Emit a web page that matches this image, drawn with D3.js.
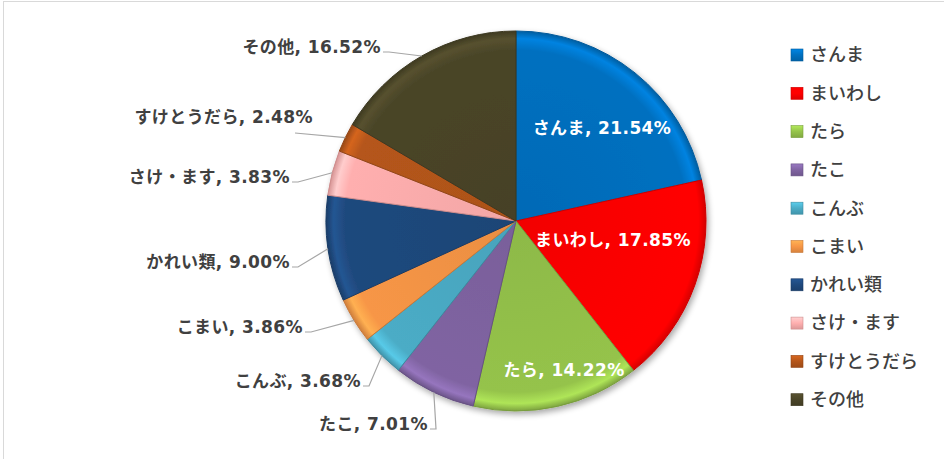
<!DOCTYPE html>
<html>
<head>
<meta charset="utf-8">
<script src="https://cdn.jsdelivr.net/npm/d3@7"></script>
<style>
  body { margin: 0; background: #fff; }
  svg { display: block; }
</style>
</head>
<body>
<div id="chart"></div>
<script>
// categories and their shares (%), clockwise from 12 o'clock
const CATEGORIES = ['さんま', 'まいわし', 'たら', 'たこ', 'こんぶ', 'こまい', 'かれい類', 'さけ・ます', 'すけとうだら', 'その他'];
const SHARES = [21.54, 17.85, 14.22, 7.01, 3.68, 3.86, 9.00, 3.83, 2.48, 16.52];
const COLORS = ['#0070C0', '#FF0000', '#95C34B', '#8064A2', '#4BACC6', '#F79646', '#1F497D', '#FFAFAF', '#B5561A', '#4A4528'];

// data label placement (Excel manual layout): inside labels are centred,
// outside labels are right-aligned and get a leader line to the slice
const LABEL_POS = [
  { x: 602, y: 128, inside: true },
  { x: 613, y: 240, inside: true },
  { x: 564, y: 370, inside: true },
  { x: 428, y: 424 },
  { x: 361, y: 381 },
  { x: 303, y: 327 },
  { x: 290, y: 262 },
  { x: 290, y: 177 },
  { x: 313, y: 117, lx: 295, ly: 133 },
  { x: 381, y: 47 }
];

const width = 944, height = 459;
const cx = 516, cy = 221, R = 190;
const FONT = '"DejaVu Sans", "Noto Sans CJK JP", sans-serif';

const data = CATEGORIES.map((c, i) => ({ name: c, value: SHARES[i], color: COLORS[i] }));

const svg = d3.select('#chart').append('svg')
  .attr('width', width).attr('height', height);

// chart area border
svg.append('rect')
  .attr('x', 3.5).attr('y', 1.5).attr('width', width).attr('height', height)
  .attr('fill', '#fff').attr('stroke', '#d9d9d9');

const defs = svg.append('defs');
const shadow = defs.append('filter').attr('id', 'shadow')
  .attr('x', '-20%').attr('y', '-20%').attr('width', '140%').attr('height', '140%');
shadow.append('feGaussianBlur').attr('in', 'SourceAlpha').attr('stdDeviation', 3);
shadow.append('feOffset').attr('dx', 2).attr('dy', 3).attr('result', 'b');
shadow.append('feComponentTransfer').append('feFuncA').attr('type', 'linear').attr('slope', 0.35);
const merge = shadow.append('feMerge');
merge.append('feMergeNode');
merge.append('feMergeNode').attr('in', 'SourceGraphic');

// bevel-ish gradient per slice: flat body, light rim, dark edge
data.forEach((d, i) => {
  const c = d3.color(d.color);
  const g = defs.append('radialGradient').attr('id', 'grad' + i)
    .attr('gradientUnits', 'userSpaceOnUse')
    .attr('cx', 0).attr('cy', 0).attr('r', R);
  g.append('stop').attr('offset', '0%').attr('stop-color', c.darker(0.15));
  g.append('stop').attr('offset', '90%').attr('stop-color', c.formatHex());
  g.append('stop').attr('offset', '96%').attr('stop-color', c.brighter(0.45));
  g.append('stop').attr('offset', '100%').attr('stop-color', c.darker(0.5));

  const lg = defs.append('linearGradient').attr('id', 'key' + i)
    .attr('x1', 0).attr('y1', 0).attr('x2', 0).attr('y2', 1);
  lg.append('stop').attr('offset', '0%').attr('stop-color', c.brighter(0.5));
  lg.append('stop').attr('offset', '50%').attr('stop-color', c.formatHex());
  lg.append('stop').attr('offset', '100%').attr('stop-color', c.darker(0.4));
});

const pie = d3.pie().value(d => d.value).sort(null);
const arcs = pie(data);
const arc = d3.arc().innerRadius(0).outerRadius(R);

const g = svg.append('g').attr('transform', `translate(${cx},${cy})`);

g.append('g').attr('filter', 'url(#shadow)')
  .selectAll('path').data(arcs).join('path')
  .attr('d', arc)
  .attr('fill', (d, i) => `url(#grad${i})`)
  .attr('stroke', d => d3.color(d.data.color).darker(0.6))
  .attr('stroke-width', 1)
  .attr('stroke-linejoin', 'round');

// leader lines for the outside labels
const lines = svg.append('g');
arcs.forEach((a, i) => {
  const p = LABEL_POS[i];
  if (p.inside) return;
  const mid = (a.startAngle + a.endAngle) / 2;
  const ex = cx + Math.sin(mid) * R;
  const ey = cy - Math.cos(mid) * R;
  const sx = p.lx != null ? p.lx : p.x + 2;
  const sy = p.ly != null ? p.ly : p.y + 5;
  const pts = p.lx != null ? [[sx, sy], [ex, ey]] : [[sx, sy], [sx + 6, sy], [ex, ey]];
  lines.append('path')
    .attr('d', d3.line()(pts))
    .attr('fill', 'none').attr('stroke', '#a6a6a6').attr('stroke-width', 1.2);
});

// data labels
const labels = svg.append('g')
  .attr('font-family', FONT).attr('font-weight', 'bold').attr('font-size', '17px')
  .attr('letter-spacing', '0.4px');
arcs.forEach((a, i) => {
  const p = LABEL_POS[i];
  labels.append('text')
    .attr('x', p.x).attr('y', p.y)
    .attr('dy', '0.35em')
    .attr('text-anchor', p.inside ? 'middle' : 'end')
    .attr('fill', p.inside ? '#ffffff' : '#404040')
    .text(`${a.data.name}, ${d3.format('.2f')(a.data.value)}%`);
});

// legend
const legend = svg.append('g').attr('transform', 'translate(791,55)');
const rowH = 38.3;
const item = legend.selectAll('g').data(data).join('g')
  .attr('transform', (d, i) => `translate(0,${i * rowH})`);
item.append('rect')
  .attr('x', 0).attr('y', -6).attr('width', 12).attr('height', 12)
  .attr('fill', (d, i) => `url(#key${i})`)
  .attr('stroke', d => d3.color(d.color).darker(0.6)).attr('stroke-width', 0.6);
item.append('text')
  .attr('x', 19).attr('y', 0).attr('dy', '0.35em')
  .attr('font-family', '"Noto Sans CJK JP", sans-serif')
  .attr('font-size', '18px').attr('font-weight', 500)
  .attr('fill', '#404040')
  .text(d => d.name);
</script>
</body>
</html>
